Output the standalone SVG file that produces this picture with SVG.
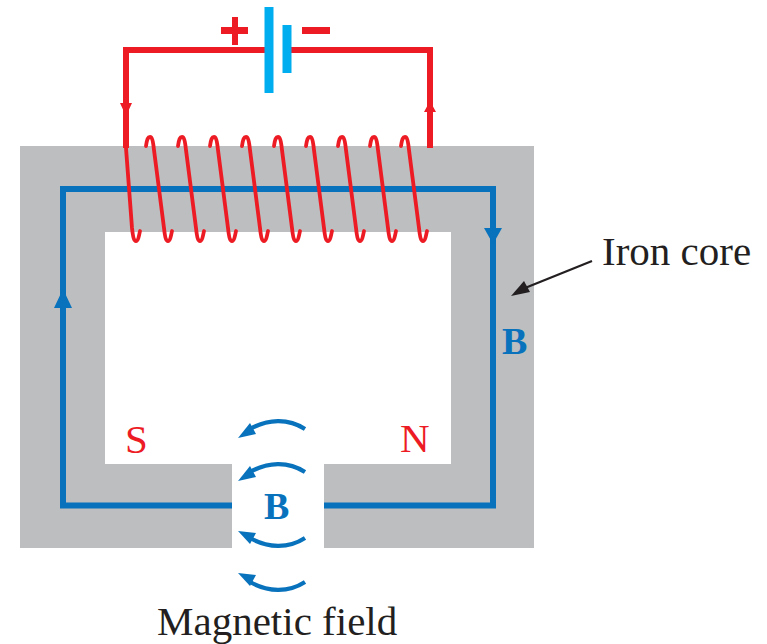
<svg xmlns="http://www.w3.org/2000/svg" width="767" height="644" viewBox="0 0 767 644">
<defs>
<style>
text{font-family:"Liberation Serif","Times New Roman",serif}
.red{fill:none;stroke:#ed1c24;stroke-width:6}
.coil{fill:none;stroke:#ed1c24;stroke-width:3.8;stroke-linecap:round}
.blue{fill:none;stroke:#0872bc;stroke-width:6}
.arc{fill:none;stroke:#0872bc;stroke-width:4.2}
.bat{fill:#00aeef}
.fb{fill:#0872bc}
.fr{fill:#ed1c24}
</style>
<path id="turn" class="coil" d="M146 146C147 139 148 137 150 137C152 137 153 141 154 150L164 228C165 237 166 241 168 241C170 241 171 236 172 231"/>
</defs>
<rect width="767" height="644" fill="#fff"/>
<g id="iron-core">
<path fill="#bcbec0" d="M20 146H534V548H324V464H451V232H105V464H232V548H20Z"/>
</g>
<g id="connectors">
<path class="blue" d="M232 505.500H63V189H493V505.500H324"/>
<path class="fb" d="M54 308L63 289L72 308ZM484 228H502L493 244Z"/>
<path class="red" d="M265 50H126V148M430 148V50H290"/>
<path class="fr" d="M120 103H132L126 116ZM424 112L430 101L436 112Z"/>
<path fill="none" stroke="#231f20" stroke-width="2.200" d="M592 261L525 288"/>
<path fill="#231f20" d="M511 296L524 281L530 292Z"/>
</g>
<g id="battery">
<rect class="bat" x="264.500" y="7" width="9" height="86"/>
<rect class="bat" x="282.500" y="25" width="9" height="48"/>
<path class="fr" d="M221 27H232V17H238V27H248V34H238V45H232V34H221ZM302 27H330V34H302Z"/>
</g>
<g id="coil">
<path class="coil" d="M126 148L132 228C133 237 134 241 136 241C138 241 139 236 140 231"/>
<use href="#turn"/>
<use href="#turn" x="32"/>
<use href="#turn" x="64"/>
<use href="#turn" x="96"/>
<use href="#turn" x="128"/>
<use href="#turn" x="160"/>
<use href="#turn" x="192"/>
<use href="#turn" x="224"/>
<use href="#turn" x="255"/>
</g>
<g id="field-lines">
<path class="arc" d="M305 429C288 418 268 419 250 429"/>
<path class="fb" d="M238 438L250 423L256 434Z"/>
<path class="arc" d="M305 472C288 461 268 462 250 472"/>
<path class="fb" d="M238 481L250 466L256 477Z"/>
<path class="arc" d="M305 538C288 549 268 548 250 538"/>
<path class="fb" d="M238 531L256 533L250 544Z"/>
<path class="arc" d="M305 582C288 593 268 592 250 582"/>
<path class="fb" d="M238 573L256 575L250 586Z"/>
</g>
<g id="labels">
<text x="125" y="453" font-size="41" fill="#ed1c24">S</text>
<text x="400" y="452" font-size="41" fill="#ed1c24">N</text>
<text x="264" y="519" font-size="38" font-weight="bold" fill="#0872bc">B</text>
<text x="502" y="354" font-size="38" font-weight="bold" fill="#0872bc">B</text>
<text x="602" y="265" font-size="41" fill="#231f20">Iron core</text>
<text x="157" y="635" font-size="41" fill="#231f20">Magnetic field</text>
</g>
</svg>
